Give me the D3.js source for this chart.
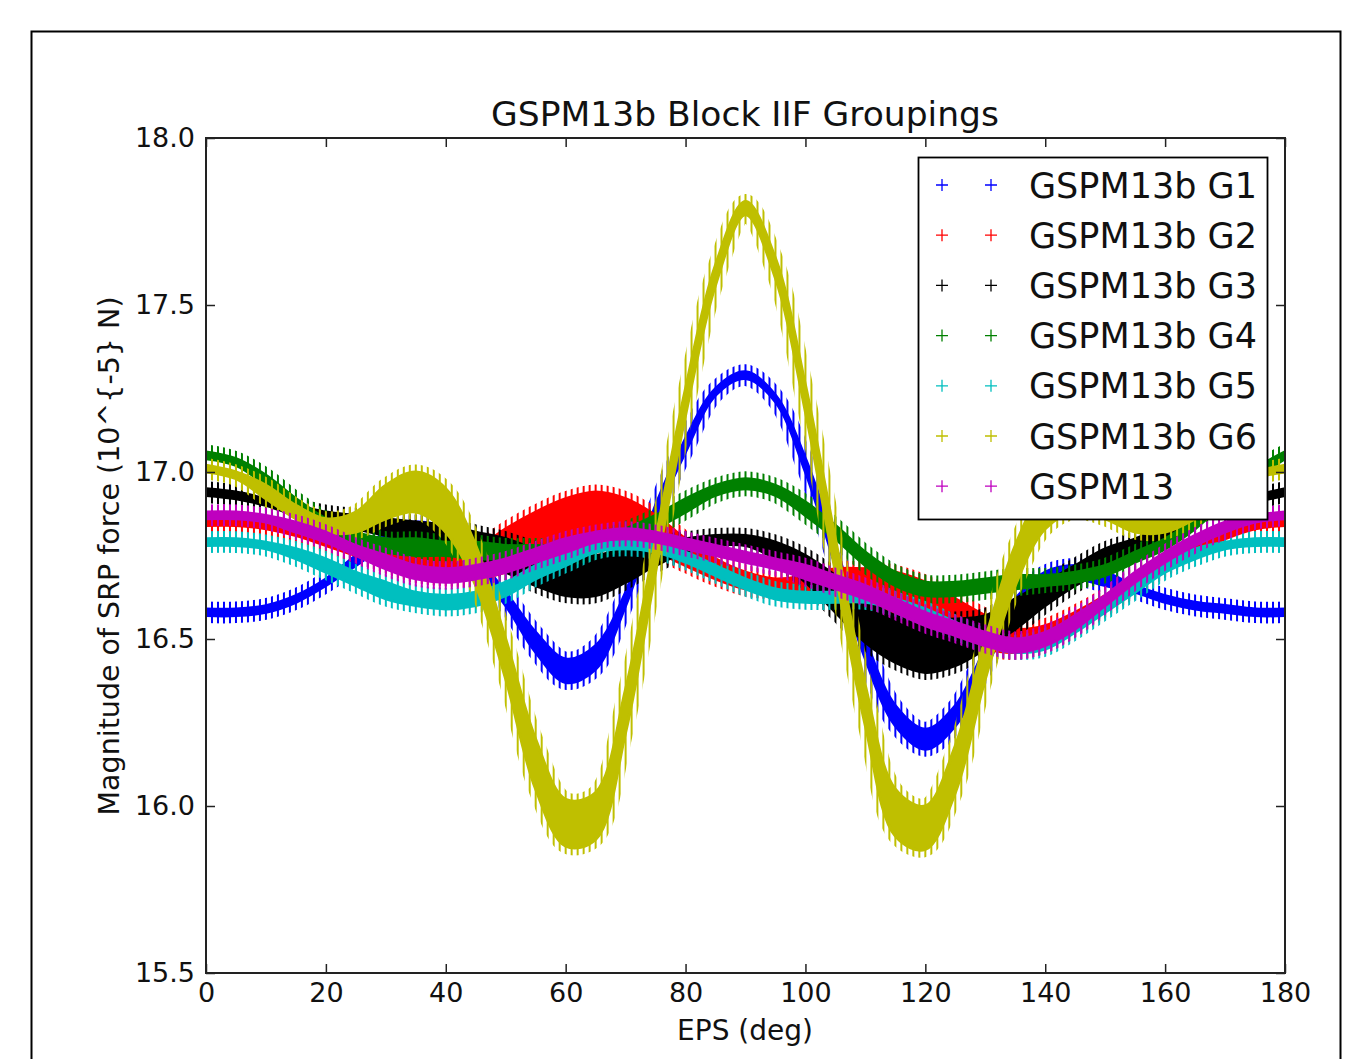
<!DOCTYPE html>
<html>
<head>
<meta charset="utf-8">
<script src="https://cdn.jsdelivr.net/npm/d3@7"></script>
<style>
  body { margin: 0; background: #fff; }
  text { font-family: "DejaVu Sans", sans-serif; fill: #111; }
</style>
</head>
<body>
<svg id="chart" width="1370" height="1059"></svg>
<script>
// EPS sample positions (deg)
var eps = [0,5,10,15,20,25,30,35,40,45,50,55,60,65,70,75,80,85,90,95,100,105,110,115,120,125,130,135,140,145,150,155,160,165,170,175,180];

// upper / lower edge of each band of "+" markers (10^-5 N)
var g1Hi = [16.59,16.59,16.60,16.63,16.68,16.75,16.82,16.85,16.83,16.75,16.64,16.52,16.44,16.48,16.64,16.90,17.10,17.25,17.30,17.23,17.04,16.78,16.50,16.30,16.23,16.30,16.47,16.62,16.70,16.72,16.70,16.66,16.63,16.61,16.60,16.59,16.59];
var g1Lo = [16.57,16.57,16.58,16.61,16.66,16.72,16.78,16.81,16.79,16.71,16.60,16.46,16.37,16.41,16.60,16.86,17.06,17.23,17.28,17.21,17.00,16.72,16.44,16.24,16.17,16.24,16.41,16.58,16.66,16.68,16.66,16.64,16.61,16.59,16.58,16.57,16.57];

var g2Hi = [16.86,16.86,16.85,16.84,16.82,16.80,16.78,16.76,16.75,16.77,16.83,16.88,16.92,16.94,16.92,16.87,16.80,16.74,16.70,16.68,16.69,16.71,16.71,16.70,16.67,16.62,16.57,16.53,16.54,16.58,16.63,16.69,16.74,16.79,16.83,16.85,16.86];
var g2Lo = [16.84,16.84,16.83,16.81,16.78,16.75,16.72,16.69,16.68,16.68,16.70,16.74,16.77,16.78,16.78,16.76,16.72,16.68,16.65,16.64,16.63,16.62,16.60,16.57,16.54,16.50,16.47,16.46,16.48,16.53,16.59,16.65,16.71,16.76,16.80,16.83,16.84];

var g3Hi = [16.95,16.94,16.92,16.90,16.88,16.87,16.86,16.85,16.84,16.82,16.80,16.77,16.75,16.75,16.77,16.79,16.80,16.81,16.81,16.79,16.75,16.69,16.62,16.57,16.56,16.56,16.57,16.62,16.67,16.72,16.77,16.80,16.84,16.88,16.91,16.93,16.95];
var g3Lo = [16.93,16.92,16.90,16.87,16.85,16.83,16.81,16.79,16.77,16.74,16.70,16.66,16.63,16.63,16.67,16.72,16.76,16.78,16.78,16.74,16.67,16.58,16.49,16.43,16.40,16.42,16.47,16.53,16.60,16.66,16.71,16.76,16.80,16.85,16.89,16.91,16.93];

var g4Hi = [17.06,17.04,16.99,16.92,16.86,16.82,16.80,16.80,16.79,16.79,16.78,16.78,16.78,16.80,16.83,16.87,16.92,16.96,16.98,16.96,16.91,16.84,16.76,16.70,16.67,16.67,16.68,16.69,16.69,16.70,16.72,16.76,16.80,16.86,16.94,17.01,17.06];
var g4Lo = [17.04,17.02,16.96,16.88,16.82,16.78,16.76,16.75,16.75,16.74,16.74,16.74,16.74,16.76,16.79,16.83,16.88,16.93,16.95,16.93,16.87,16.80,16.72,16.66,16.63,16.63,16.64,16.65,16.66,16.67,16.69,16.73,16.77,16.83,16.91,16.98,17.04];

var g5Hi = [16.80,16.80,16.79,16.77,16.74,16.70,16.67,16.64,16.63,16.64,16.67,16.72,16.76,16.79,16.80,16.79,16.76,16.72,16.68,16.65,16.64,16.64,16.64,16.62,16.59,16.55,16.51,16.49,16.51,16.56,16.62,16.68,16.73,16.77,16.79,16.80,16.80];
var g5Lo = [16.78,16.78,16.77,16.74,16.70,16.66,16.62,16.60,16.59,16.60,16.63,16.68,16.72,16.76,16.77,16.76,16.73,16.69,16.65,16.62,16.61,16.61,16.61,16.59,16.56,16.52,16.48,16.46,16.47,16.52,16.58,16.64,16.70,16.74,16.77,16.78,16.78];

var g6Hi = [17.02,17.00,16.96,16.90,16.86,16.88,16.96,17.00,16.95,16.78,16.50,16.20,16.02,16.04,16.35,16.80,17.25,17.62,17.81,17.64,17.26,16.80,16.36,16.05,16.00,16.18,16.50,16.78,16.95,17.00,16.96,16.90,16.88,16.90,16.96,17.00,17.02];
var g6Lo = [17.00,16.98,16.92,16.86,16.82,16.82,16.86,16.88,16.82,16.66,16.38,16.05,15.88,15.90,16.22,16.70,17.17,17.56,17.77,17.58,17.18,16.70,16.24,15.91,15.87,16.04,16.38,16.66,16.83,16.88,16.86,16.82,16.82,16.86,16.92,16.98,17.00];

var g13Hi = [16.88,16.88,16.87,16.85,16.82,16.78,16.75,16.72,16.71,16.72,16.74,16.77,16.80,16.82,16.83,16.82,16.80,16.78,16.76,16.74,16.72,16.69,16.66,16.62,16.58,16.55,16.52,16.50,16.52,16.57,16.63,16.70,16.76,16.81,16.85,16.87,16.88];
var g13Lo = [16.86,16.86,16.85,16.82,16.79,16.75,16.71,16.68,16.67,16.68,16.70,16.73,16.76,16.79,16.80,16.79,16.77,16.75,16.73,16.71,16.68,16.65,16.62,16.58,16.54,16.51,16.48,16.46,16.48,16.53,16.60,16.67,16.73,16.78,16.82,16.85,16.86];

var names = ["GSPM13b G1","GSPM13b G2","GSPM13b G3","GSPM13b G4","GSPM13b G5","GSPM13b G6","GSPM13"];
var colors = ["#0000ff","#ff0000","#000000","#008000","#00bfbf","#bfbf00","#bf00bf"];
var highs = [g1Hi,g2Hi,g3Hi,g4Hi,g5Hi,g6Hi,g13Hi];
var lows = [g1Lo,g2Lo,g3Lo,g4Lo,g5Lo,g6Lo,g13Lo];

var xTicks = [0,20,40,60,80,100,120,140,160,180];
var yTicks = [15.5,16.0,16.5,17.0,17.5,18.0];

var svg = d3.select("#chart");
var pLeft = 206, pRight = 1285, pTop = 138, pBottom = 973;

var x = d3.scaleLinear().domain([0,180]).range([pLeft,pRight]);
var y = d3.scaleLinear().domain([15.5,18]).range([pBottom,pTop]);

// outer frame
svg.append("rect")
    .attr("x",31.5).attr("y",31.5)
    .attr("width",1309).attr("height",1060)
    .attr("fill","none").attr("stroke","#000").attr("stroke-width",2);

var defs = svg.append("defs");
defs.append("clipPath").attr("id","plotClip")
    .append("rect").attr("x",pLeft).attr("y",pTop)
    .attr("width",pRight-pLeft).attr("height",pBottom-pTop);

// one pattern per colour: vertical strokes of the "+" markers, one per degree
var step = x(1)-x(0);
colors.forEach(function(c,i){
    var p = defs.append("pattern")
        .attr("id","teeth"+i)
        .attr("patternUnits","userSpaceOnUse")
        .attr("x",x(0)-1).attr("y",0)
        .attr("width",step).attr("height",20);
    p.append("rect").attr("x",0).attr("y",0)
        .attr("width",2).attr("height",20)
        .attr("fill",c);
});

var area = d3.area()
    .x(function(d){ return x(d.e); })
    .y0(function(d){ return y(d.lo); })
    .y1(function(d){ return y(d.hi); })
    .curve(d3.curveCatmullRom);

var plot = svg.append("g").attr("clip-path","url(#plotClip)");

highs.forEach(function(hi,i){
    var rows = eps.map(function(e,j){ return {e:e, hi:hi[j], lo:lows[i][j]}; });
    var g = plot.append("g");
    g.append("path")
        .attr("d",area(rows))
        .attr("fill",colors[i])
        .attr("stroke",colors[i])
        .attr("stroke-width",3)
        .attr("stroke-linejoin","round");
    g.append("path")
        .attr("d",area(rows))
        .attr("fill","none")
        .attr("stroke","url(#teeth"+i+")")
        .attr("stroke-width",15);
});

// axes, matplotlib classic: ticks inside on all four sides
var axB = svg.append("g").attr("transform","translate(0,"+pBottom+")")
    .call(d3.axisBottom(x).tickValues(xTicks).tickSize(-9).tickPadding(10).tickFormat(d3.format("d")));
var axT = svg.append("g").attr("transform","translate(0,"+pTop+")")
    .call(d3.axisTop(x).tickValues(xTicks).tickSize(-9).tickFormat(""));
var axL = svg.append("g").attr("transform","translate("+pLeft+",0)")
    .call(d3.axisLeft(y).tickValues(yTicks).tickSize(-9).tickPadding(11).tickFormat(d3.format(".1f")));
var axR = svg.append("g").attr("transform","translate("+pRight+",0)")
    .call(d3.axisRight(y).tickValues(yTicks).tickSize(-9).tickFormat(""));

[axB,axT,axL,axR].forEach(function(a){
    a.select(".domain").remove();
    a.selectAll("line").attr("stroke","#222").attr("stroke-width",1.5);
    a.selectAll("text").attr("font-size",27).attr("font-family","DejaVu Sans").attr("fill","#111");
});

svg.append("rect")
    .attr("x",pLeft).attr("y",pTop)
    .attr("width",pRight-pLeft).attr("height",pBottom-pTop)
    .attr("fill","none").attr("stroke","#222").attr("stroke-width",2);

svg.append("text")
    .attr("x",745).attr("y",126)
    .attr("text-anchor","middle").attr("font-size",34.5)
    .text("GSPM13b Block IIF Groupings");

svg.append("text")
    .attr("x",745).attr("y",1040)
    .attr("text-anchor","middle").attr("font-size",28)
    .text("EPS (deg)");

svg.append("text")
    .attr("transform","translate(119,556) rotate(-90)")
    .attr("text-anchor","middle").attr("font-size",28.5)
    .text("Magnitude of SRP force (10^{-5} N)");

// legend
var leg = svg.append("g");
leg.append("rect")
    .attr("x",918.5).attr("y",157.5)
    .attr("width",349).attr("height",362)
    .attr("fill","#fff").attr("stroke","#000").attr("stroke-width",1.8);

names.forEach(function(n,i){
    var cy = 185 + i*50.2;
    [942,991].forEach(function(cx){
        leg.append("path")
            .attr("d","M"+(cx-6)+","+cy+"h12M"+cx+","+(cy-6)+"v12")
            .attr("stroke",colors[i]).attr("stroke-width",1.3).attr("fill","none");
    });
    leg.append("text")
        .attr("x",1029).attr("y",cy+12.5)
        .attr("font-size",35)
        .text(n);
});
</script>
</body>
</html>
